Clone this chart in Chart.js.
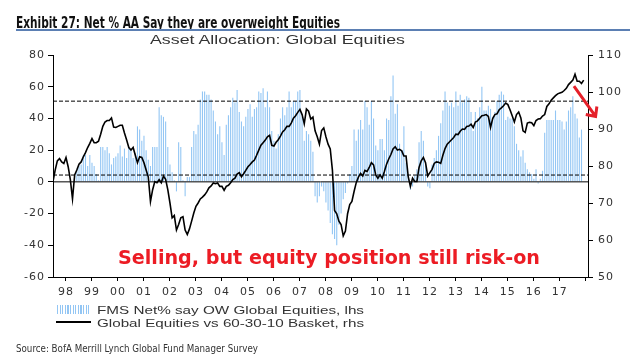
<!DOCTYPE html>
<html><head><meta charset="utf-8">
<script src="https://cdn.jsdelivr.net/npm/chart.js@4.4.1/dist/chart.umd.min.js"></script>
<style>
html,body{margin:0;padding:0;background:#fff;}
#wrap{position:relative;width:638px;height:361px;overflow:hidden;background:#fff;}
canvas{position:absolute;left:0;top:0;}
.t{position:absolute;white-space:nowrap;line-height:1;transform-origin:0 0;display:inline-block;}
#title{left:16px;top:13px;font:bold 16px "Liberation Sans Narrow","DejaVu Sans Condensed",sans-serif;color:#111;}
#rule{position:absolute;left:16px;top:29px;width:614px;height:2px;background:#5b7fb3;}
#sub{left:150px;top:32px;font:13px "Liberation Sans",Arial,sans-serif;color:#333;}
#note{left:118px;top:246px;font:bold 19px "DejaVu Sans",Verdana,sans-serif;color:#ec1c24;}
#lg1{left:97px;top:304px;font:11px "Liberation Sans",Arial,sans-serif;color:#333;}
#lg2{left:97px;top:316.5px;font:11px "Liberation Sans",Arial,sans-serif;color:#333;}
#sw1{position:absolute;left:57px;top:305px;width:34px;height:9px;background:repeating-linear-gradient(to right,#93c6f4 0 1.3px,#fff 1.3px 2.6px);}
#sw2{position:absolute;left:56px;top:321px;width:35px;height:1.5px;background:#000;}
#src{left:16px;top:343px;font:10px "Liberation Sans Narrow","DejaVu Sans Condensed",sans-serif;color:#333;}
</style>
</head><body>
<div id="wrap">
<canvas id="c" width="638" height="361"></canvas>
<div class="t" id="title">Exhibit 27: Net % AA Say they are overweight Equities</div>
<div id="rule"></div>
<div class="t" id="sub">Asset Allocation: Global Equities</div>
<div class="t" id="note">Selling, but equity position still risk-on</div>
<div id="sw1"></div><div class="t" id="lg1">FMS Net% say OW Global Equities, lhs</div>
<div id="sw2"></div><div class="t" id="lg2">Global Equities vs 60-30-10 Basket, rhs</div>
<div class="t" id="src">Source: BofA Merrill Lynch Global Fund Manager Survey</div>
</div>
<script>
// ---- data (month index 0 = Jan 1998) ----
const yearLabels = ['98','99','00','01','02','03','04','05','06','07','08','09','10','11','12','13','14','15','16','17'];
const monthsShown = 247;
const barStartMonth = 10;
// FMS Net% say overweight global equities (lhs), monthly from Nov 1998
const fmsNetOW = [
 4,8,10,11,17,17,10,17,12,10,
 5,1,22,22,20,22,18,11,15,16,
 18,23,16,21,15,22,20,15,18,35,
 33,26,29,20,14,10,22,22,22,47,
 42,41,38,22,11,6,1,-6,25,22,
 1,-9,3,3,22,32,30,36,52,57,
 57,55,55,52,45,38,30,35,25,17,
 36,42,47,53,50,58,44,38,35,41,
 46,49,41,46,47,57,56,59,47,57,
 47,32,26,21,30,40,47,42,47,57,
 47,51,51,57,58,41,26,32,30,26,
 19,-9,-13,-9,-3,-6,-13,-18,-26,-33,
 -36,-40,-27,-20,-11,-7,-1,5,10,33,
 26,33,39,33,51,47,36,51,40,23,
 20,27,27,20,40,39,54,67,43,49,
 24,20,35,12,5,-5,-3,4,8,25,
 32,26,11,-3,-4,11,15,20,29,37,
 45,57,50,48,50,47,57,48,55,50,
 52,54,53,44,32,44,40,47,60,45,
 45,48,46,41,44,51,55,57,55,39,
 41,40,40,35,24,20,16,20,12,8,
 6,5,2,8,-1,2,7,31,39,39,
 39,39,45,39,39,38,33,38,45,47,
 54,43,40,28,33
];
// Global equities vs 60-30-10 basket (rhs), monthly from Jan 1998
const equityVsBasket = [
 75.8,78.9,81.4,82.0,81.1,80.7,82.3,79.8,76.3,71.1,
 77.6,78.9,80.5,81.1,82.5,83.6,85.0,86.1,87.4,86.3,
 86.3,86.7,88.6,90.7,91.9,92.3,92.3,93.0,90.5,90.4,
 90.7,91.0,91.0,88.9,87.0,85.0,84.3,85.0,82.9,80.9,
 82.5,82.3,80.9,78.9,77.0,70.4,73.6,75.8,75.5,76.3,
 75.5,77.3,76.4,73.6,70.0,66.0,66.6,62.7,64.2,66.0,
 66.3,62.7,61.5,63.0,65.1,67.3,69.1,70.0,71.1,71.6,
 72.2,73.0,74.1,74.6,75.4,75.2,75.4,74.5,74.5,73.4,
 74.5,74.8,75.5,76.3,76.7,77.8,78.2,77.1,77.9,78.8,
 79.8,80.4,81.1,81.6,82.9,84.3,85.6,86.3,87.0,87.9,
 88.3,85.6,85.4,86.4,87.1,88.1,89.2,89.8,90.7,90.7,
 91.6,92.9,93.6,94.5,95.3,93.9,91.4,95.4,94.8,92.7,
 93.2,89.5,87.9,85.9,89.6,90.3,87.9,85.9,84.6,78.9,
 68.0,67.1,65.1,64.2,61.1,62.4,67.1,69.6,70.4,73.1,
 75.5,77.0,78.0,77.3,78.8,78.5,79.6,80.9,80.3,77.6,
 76.7,77.6,76.7,78.5,80.5,81.9,83.1,84.6,85.2,84.3,
 84.5,84.1,82.7,82.7,77.1,74.5,76.7,75.8,75.8,79.6,
 81.4,82.3,80.9,77.3,78.2,79.1,80.7,81.1,81.0,80.7,
 82.9,84.7,85.9,86.5,87.1,87.7,88.6,88.5,89.4,90.0,
 89.9,90.7,90.8,91.3,90.4,91.9,92.2,92.9,93.6,93.7,
 93.9,93.4,90.4,92.8,93.9,94.1,95.2,95.7,96.3,97.0,
 96.6,95.2,93.6,91.9,93.9,94.6,93.0,89.5,89.1,91.6,
 91.8,91.7,90.9,92.3,92.7,92.8,93.5,93.9,96.1,96.8,
 97.8,98.4,99.0,99.5,99.7,99.9,100.4,101.0,102.0,102.6,
 103.2,104.8,102.9,102.9,102.3,103.2
];
const upperBand = 50.9;   // lhs dashed reference
const lowerBand = 4.3;    // lhs dashed reference
const leftRange = [-60, 80];
const rightRange = [50, 110];
const arrowNote = {from:{x:240.5, y:101.6}, to:{x:250.5, y:93.4}};

// ---- fit HTML text widths ----
function fit(id, w){const el=document.getElementById(id);const n=el.getBoundingClientRect().width;el.style.transform='scaleX('+(w/n)+')';}
fit('title',324); fit('sub',255); fit('note',422); fit('lg1',267); fit('lg2',267); fit('src',242);

const spacing = {
  id:'spacing',
  beforeLayout(c){ c.ctx.letterSpacing='1px'; },
  beforeDraw(c){ c.ctx.letterSpacing='1px'; }
};
const arrow = {
  id:'arrow',
  afterDraw(c){
    const xs=c.scales.x, ys=c.scales.y1, ctx=c.ctx;
    const x1=xs.getPixelForValue(arrowNote.from.x), y1=ys.getPixelForValue(arrowNote.from.y);
    const x2=xs.getPixelForValue(arrowNote.to.x), y2=ys.getPixelForValue(arrowNote.to.y);
    const a=Math.atan2(y1-y2,x1-x2), L=10, s=0.75;
    ctx.save(); ctx.strokeStyle='#e5202a'; ctx.lineWidth=3; ctx.lineCap='butt';
    ctx.beginPath(); ctx.moveTo(x1,y1); ctx.lineTo(x2,y2);
    ctx.moveTo(x2+L*Math.cos(a+s),y2+L*Math.sin(a+s)); ctx.lineTo(x2,y2); ctx.lineTo(x2+L*Math.cos(a-s),y2+L*Math.sin(a-s));
    ctx.stroke(); ctx.restore();
  }
};

const tickFont={family:'DejaVu Sans',size:11};
const tickColor='#333';
const yearTicks=yearLabels.map((l,i)=>i*12).concat([yearLabels.length*12]);

new Chart(document.getElementById('c'),{
  type:'bar',
  data:{datasets:[
    {type:'bar',label:'FMS Net% say OW Global Equities, lhs',data:fmsNetOW.map((v,i)=>({x:barStartMonth+i,y:v})),
     backgroundColor:'#93c6f4',barThickness:1.1,inflateAmount:0,grouped:false,yAxisID:'y',order:5},
    {type:'line',data:[{x:0,y:upperBand},{x:monthsShown,y:upperBand}],borderColor:'#000',borderWidth:1,borderDash:[4,2],pointRadius:0,yAxisID:'y',order:4},
    {type:'line',data:[{x:0,y:lowerBand},{x:monthsShown,y:lowerBand}],borderColor:'#000',borderWidth:1,borderDash:[4,2],pointRadius:0,yAxisID:'y',order:3},
    {type:'line',data:[{x:0,y:0},{x:monthsShown,y:0}],borderColor:'#000',borderWidth:1,pointRadius:0,yAxisID:'y',order:2},
    {type:'line',label:'Global Equities vs 60-30-10 Basket, rhs',data:equityVsBasket.map((v,i)=>({x:i,y:v})),
     borderColor:'#000',borderWidth:1.6,pointRadius:0,tension:0,yAxisID:'y1',order:1}
  ]},
  options:{
    responsive:false,animation:false,devicePixelRatio:1,
    layout:{padding:{top:55,left:0,right:0,bottom:0}},
    plugins:{legend:{display:false},tooltip:{enabled:false}},
    scales:{
      x:{type:'linear',min:0,max:monthsShown,offset:false,
        grid:{display:true,drawOnChartArea:false,drawTicks:true,tickLength:4,color:'#000'},
        border:{display:true,color:'#000',width:1},
        afterBuildTicks:s=>{s.ticks=yearTicks.map(v=>({value:v}));},
        ticks:{autoSkip:false,maxRotation:0,labelOffset:13,padding:5,font:tickFont,color:tickColor,
          callback:v=>yearLabels[v/12]||''},
        afterFit:s=>{s.height=84;}
      },
      y:{type:'linear',position:'left',min:leftRange[0],max:leftRange[1],
        grid:{display:true,drawOnChartArea:false,drawTicks:true,tickLength:5,color:'#000'},
        border:{display:true,color:'#000',width:1},
        ticks:{stepSize:20,padding:3,font:tickFont,color:tickColor},
        afterFit:s=>{s.width=53;}
      },
      y1:{type:'linear',position:'right',min:rightRange[0],max:rightRange[1],
        grid:{display:true,drawOnChartArea:false,drawTicks:true,tickLength:5,color:'#000'},
        border:{display:true,color:'#000',width:1},
        ticks:{stepSize:10,padding:5,font:tickFont,color:tickColor},
        afterFit:s=>{s.width=50;}
      }
    }
  },
  plugins:[spacing,arrow]
});
</script>
</body></html>
